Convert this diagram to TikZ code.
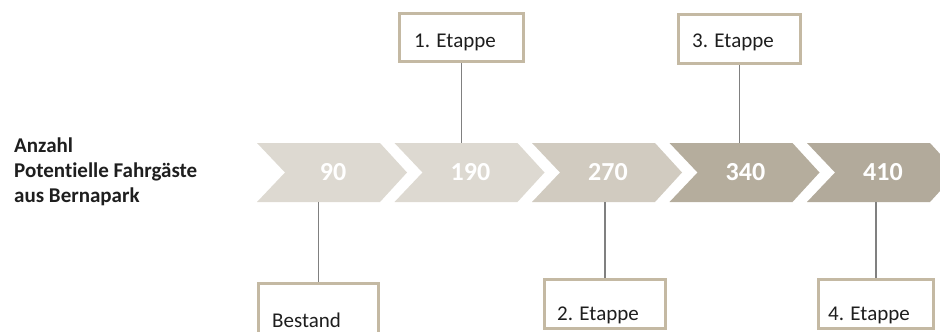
\documentclass[tikz,border=0pt]{standalone}
\usepackage{fontspec}
\setmainfont{Carlito}[Ligatures={NoCommon,NoRequired,NoContextual}]
\definecolor{chA}{RGB}{221,217,209}
\definecolor{chB}{RGB}{209,203,192}
\definecolor{chC}{RGB}{181,173,157}
\definecolor{chD}{RGB}{178,170,155}
\definecolor{frame}{RGB}{196,185,163}
\definecolor{stem}{RGB}{128,128,128}
\definecolor{ink}{RGB}{30,30,30}
\begin{document}
\begin{tikzpicture}[x=1pt,y=-1pt,
  numtext/.style={text=white,font=\fontsize{26}{30}\selectfont\bfseries,inner sep=0pt},
  stagebox/.style={draw=frame,line width=3pt,fill=white,inner sep=0pt},
  stagetext/.style={text=ink,font=\fontsize{21}{25}\selectfont,inner sep=0pt,anchor=west},
  stemline/.style={draw=stem,line width=1.2pt}]
\useasboundingbox (0,0) rectangle (940,332);
\clip (0,0) rectangle (940,332);

% side caption
\node[text=ink,font=\fontsize{21}{25}\selectfont\bfseries,align=left,anchor=west,inner sep=0pt]
  (caption) at (14,172) {Anzahl\\Potentielle Fahrgäste\\aus Bernapark};

% chevron band with the numbers
\foreach \i/\v/\c in {0/90/chA,1/190/chA,2/270/chB,3/340/chC,4/410/chD} {
  \pgfmathsetmacro\x{257+137.5*\i}
  \fill[\c] (\x,143) -- ++(123,0) -- ++(27,29.5) -- ++(-27,29.5) -- ++(-123,0) -- ++(28,-29.5) -- cycle;
  \node[numtext] (n\i) at (\x+76,172.5) {\v};
  \coordinate (t\i) at (\x+75,143);
  \coordinate (b\i) at (\x+75,202);
}

% stage boxes above the band
\node[stagebox,minimum width=124,minimum height=48] (e1) at (461.5,37.5) {};
\node[stagetext] (l1) at (414,42) {1. Etappe};
\node[stagebox,minimum width=122,minimum height=49] (e3) at (739.5,39) {};
\node[stagetext] (l3) at (692,42) {3. Etappe};

% stage boxes below the band
\node[stagebox,minimum width=120,minimum height=52] (e0) at (318.5,309) {};
\node[stagetext] (l0) at (272,320) {Bestand};
\node[stagebox,minimum width=121,minimum height=49] (e2) at (605,304) {};
\node[stagetext] (l2) at (557,315) {2. Etappe};
\node[stagebox,minimum width=115,minimum height=49] (e4) at (876,304) {};
\node[stagetext] (l4) at (828,315) {4. Etappe};

% connectors between boxes and band
\draw[stemline] (e1.south) -- (e1.south |- t1);
\draw[stemline] (e3.south) -- (e3.south |- t3);
\draw[stemline] (e0.north) -- (e0.north |- b0);
\draw[stemline] (e2.north) -- (e2.north |- b2);
\draw[stemline] (e4.north) -- (e4.north |- b4);
\end{tikzpicture}
\end{document}
